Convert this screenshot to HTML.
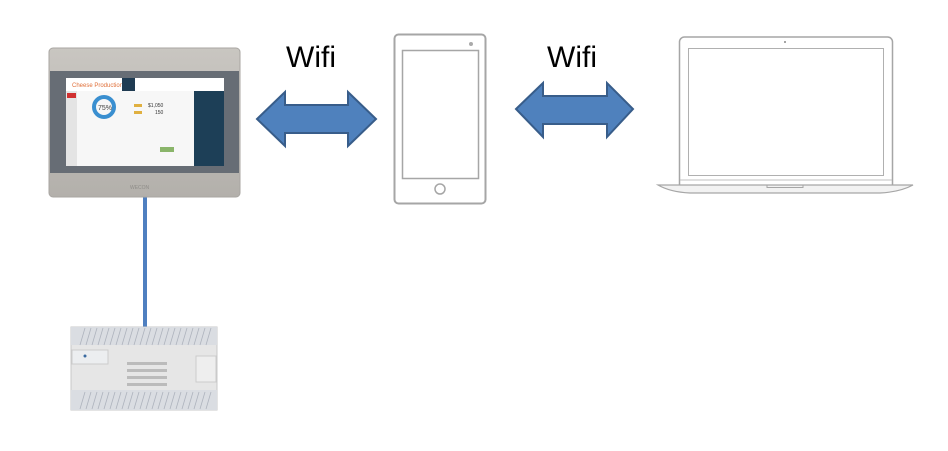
<!DOCTYPE html>
<html><head><style>
body{margin:0;background:#fff;width:948px;height:446px;overflow:hidden;font-family:"Liberation Sans",sans-serif}
</style></head><body>
<svg width="948" height="446" viewBox="0 0 948 446" xmlns="http://www.w3.org/2000/svg">
<defs>
<linearGradient id="hg" x1="0" y1="0" x2="0" y2="1"><stop offset="0" stop-color="#c9c6c1"/><stop offset="1" stop-color="#b3b0ab"/></linearGradient>
</defs>
<!-- cable -->
<rect x="143" y="196" width="4" height="134" fill="#4f7fc0"/>
<!-- HMI -->
<rect x="49" y="48" width="191" height="149" rx="4" fill="url(#hg)" stroke="#a9a6a2"/>
<rect x="50" y="71" width="189" height="102" fill="#676d75"/>
<rect x="66" y="78" width="158" height="88" fill="#f7f7f7"/>
<rect x="66" y="78" width="158" height="13" fill="#fff"/>
<text x="72" y="87" font-size="6" fill="#e0703a">Cheese Production</text>
<rect x="122" y="78" width="13" height="13" fill="#1f3b52"/>
<rect x="194" y="91" width="30" height="75" fill="#1d3f57"/>
<rect x="66" y="91" width="11" height="75" fill="#e4e4e4"/>
<rect x="67" y="93" width="9" height="5" fill="#d03030"/>
<circle cx="104" cy="107" r="10" fill="none" stroke="#3a8fd0" stroke-width="4"/>
<text x="98" y="110" font-size="7" fill="#444">75%</text>
<rect x="134" y="104" width="8" height="3" fill="#e0b040"/>
<rect x="134" y="111" width="8" height="3" fill="#e0b040"/>
<text x="148" y="107" font-size="5" fill="#333">$1,050</text>
<text x="155" y="114" font-size="5" fill="#333">150</text>
<rect x="160" y="147" width="14" height="5" fill="#8ab56a"/>
<text x="130" y="189" font-size="5" fill="#8e8c88">WECON</text>
<!-- PLC -->
<rect x="71" y="327" width="146" height="83" fill="#e6e6e6" stroke="#c8c8c8"/>
<rect x="71" y="327" width="146" height="18" fill="#dadde2"/>
<rect x="71" y="390" width="146" height="20" fill="#dadde2"/>
<g stroke="#aeb3bd" stroke-width="0.8">
<path d="M80 345l5-17M86 345l5-17M92 345l5-17M98 345l5-17M104 345l5-17M110 345l5-17M116 345l5-17M122 345l5-17M128 345l5-17M134 345l5-17M140 345l5-17M146 345l5-17M152 345l5-17M158 345l5-17M164 345l5-17M170 345l5-17M176 345l5-17M182 345l5-17M188 345l5-17M194 345l5-17M200 345l5-17M206 345l5-17"/>
<path d="M80 409l5-17M86 409l5-17M92 409l5-17M98 409l5-17M104 409l5-17M110 409l5-17M116 409l5-17M122 409l5-17M128 409l5-17M134 409l5-17M140 409l5-17M146 409l5-17M152 409l5-17M158 409l5-17M164 409l5-17M170 409l5-17M176 409l5-17M182 409l5-17M188 409l5-17M194 409l5-17M200 409l5-17M206 409l5-17"/>
</g>
<rect x="72" y="350" width="36" height="14" fill="#eceef0" stroke="#ccc"/>
<circle cx="85" cy="356" r="1.5" fill="#3a6aa0"/>
<rect x="127" y="362" width="40" height="3" fill="#bbb"/>
<rect x="127" y="369" width="40" height="3" fill="#bbb"/>
<rect x="127" y="376" width="40" height="3" fill="#bbb"/>
<rect x="127" y="383" width="40" height="3" fill="#bbb"/>
<rect x="196" y="356" width="20" height="26" fill="#eee" stroke="#ccc"/>
<!-- arrows -->
<path d="M257 119L285 92V105H348V92L376 119L348 146V133H285V146Z" fill="#4f81bd" stroke="#385d8a" stroke-width="2"/>
<path d="M516 109L543 83V96H607V83L633 109L607 137V124H543V137Z" fill="#4f81bd" stroke="#385d8a" stroke-width="2"/>
<text x="286" y="67" font-size="30" fill="#000">Wifi</text>
<text x="547" y="67" font-size="30" fill="#000">Wifi</text>
<!-- phone -->
<rect x="394.5" y="34.5" width="91" height="169" rx="4" fill="#fff" stroke="#a6a6a6" stroke-width="2"/>
<rect x="402.5" y="50.5" width="76" height="128" fill="#fff" stroke="#a6a6a6" stroke-width="1.5"/>
<circle cx="440" cy="189" r="5" fill="none" stroke="#a6a6a6" stroke-width="1.5"/>
<circle cx="471" cy="44" r="2" fill="#aaa"/>
<!-- laptop -->
<path d="M679.5 185V42a5 5 0 0 1 5-5h203a5 5 0 0 1 5 5V185" fill="#fff" stroke="#a6a6a6" stroke-width="1.5"/>
<rect x="688.5" y="48.5" width="195" height="127" fill="#fff" stroke="#b0b0b0"/>
<line x1="680" y1="180" x2="892" y2="180" stroke="#c0c0c0"/>
<circle cx="785" cy="42" r="1" fill="#888"/>
<path d="M658 185H913Q900 192 880 193H690Q670 192 658 185Z" fill="#f2f2f2" stroke="#a6a6a6" stroke-width="1.2"/>
<path d="M767 185v2.5h36V185" fill="none" stroke="#a6a6a6"/>
</svg>
</body></html>
